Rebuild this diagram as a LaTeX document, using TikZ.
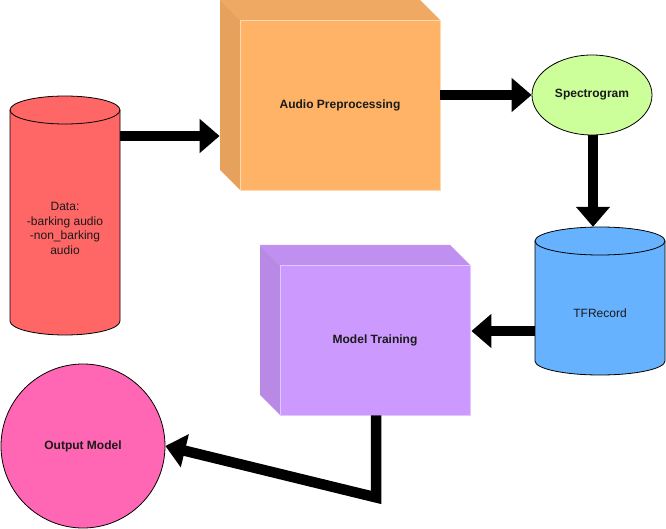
\documentclass[tikz,border=0pt]{standalone}
\usepackage{fontspec}
\setmainfont{Liberation Sans}
\usetikzlibrary{arrows.meta,calc,shapes.geometric}
\definecolor{datacol}{HTML}{FF6666}
\definecolor{tfrcol}{HTML}{66B2FF}
\definecolor{speccol}{HTML}{CCFF99}
\definecolor{outcol}{HTML}{FF66B3}
\definecolor{apcol}{HTML}{FFB366}
\definecolor{aptop}{HTML}{F0A962}
\definecolor{apleft}{HTML}{E6A15C}
\definecolor{apline}{HTML}{FFD9B0}
\definecolor{mtcol}{HTML}{CC99FF}
\definecolor{mttop}{HTML}{C090F0}
\definecolor{mtleft}{HTML}{B88AE6}
\definecolor{mtline}{HTML}{E2C8FF}
\definecolor{txtcol}{HTML}{1A1A1A}
\tikzset{
  lbl/.style={font=\fontsize{12pt}{14.5pt}\selectfont, text=txtcol, align=center, inner sep=0pt},
  blbl/.style={lbl, font=\fontsize{12pt}{14.5pt}\selectfont\bfseries},
  box/.style={rectangle, inner sep=0pt},
  arr/.style={line width=10.5pt, line join=miter, -{Triangle[length=20pt,width=33pt]}},
}
\begin{document}
\begin{tikzpicture}[x=1pt,y=-1pt]
\useasboundingbox (0,0) rectangle (666,529);
% ---------- Data cylinder ----------
\fill[datacol] (10,110) -- (10,321) arc[start angle=180,end angle=0,x radius=55,y radius=14] -- (120,110) arc[start angle=0,end angle=-180,x radius=55,y radius=14] -- cycle;
\draw[line width=0.8pt] (10,110) -- (10,321) arc[start angle=180,end angle=0,x radius=55,y radius=14] -- (120,110);
\draw[line width=0.8pt] (65,110) ellipse[x radius=55,y radius=14];
\node[box, minimum width=110pt, minimum height=239pt] (data) at (65,215.5) {};
\node[lbl] (datatxt) at ($(data.center)+(0,13)$) {Data:\\-barking audio\\-non\_barking\\audio};
% ---------- Audio preprocessing cube ----------
\fill[aptop] (220,0) -- (420,0) -- (440,20) -- (240,20) -- cycle;
\fill[apleft] (220,0) -- (240,20) -- (240,190) -- (220,170) -- cycle;
\node[box, fill=apcol, draw=apline, line width=0.8pt, minimum width=200pt, minimum height=170pt] (apre) at (340,105) {};
\node[blbl] at (apre.center) {Audio Preprocessing};
% ---------- Spectrogram ----------
\node[ellipse, draw, line width=0.8pt, fill=speccol, minimum width=120pt, minimum height=80pt, inner sep=0pt, blbl] (spec) at (592,95) {Spectrogram};
% ---------- TFRecord cylinder ----------
\fill[tfrcol] (535,241) -- (535,361) arc[start angle=180,end angle=0,x radius=65,y radius=14] -- (665,241) arc[start angle=0,end angle=-180,x radius=65,y radius=14] -- cycle;
\draw[line width=0.8pt] (535,241) -- (535,361) arc[start angle=180,end angle=0,x radius=65,y radius=14] -- (665,241);
\draw[line width=0.8pt] (600,241) ellipse[x radius=65,y radius=14];
\node[box, minimum width=130pt, minimum height=148pt] (tfr) at (600,301) {};
\node[lbl] at ($(tfr.center)+(0,12)$) {TFRecord};
% ---------- Model training cube ----------
\fill[mttop] (260,245) -- (450,245) -- (470,265) -- (280,265) -- cycle;
\fill[mtleft] (260,245) -- (280,265) -- (280,415) -- (260,395) -- cycle;
\node[box, fill=mtcol, draw=mtline, line width=0.8pt, minimum width=190pt, minimum height=150pt] (mt) at (375,340) {};
\node[blbl] at (mt.center) {Model Training};
% ---------- Output model ----------
\node[circle, draw, line width=0.8pt, fill=outcol, minimum size=164pt, inner sep=0pt, blbl] (out) at (83,446) {Output Model};
% ---------- Connectors ----------
\coordinate (a1e) at ($(apre.west)+(-20,31)$);
\draw[arr] (data.east |- a1e) -- (a1e);
\draw[arr] (apre.east |- spec.west) -- (spec.west);
\draw[arr] ([xshift=1pt]spec.south) -- ([xshift=1pt]spec.south |- tfr.north) ;
\coordinate (a4e) at ($(mt.east)+(1,-9)$);
\draw[arr] (tfr.west |- a4e) -- (a4e);
\coordinate (bend) at ($(mt.south)+(1,82)$);
\draw[arr] ([xshift=1pt]mt.south) -- (bend) -- (out.east);
\end{tikzpicture}
\end{document}
